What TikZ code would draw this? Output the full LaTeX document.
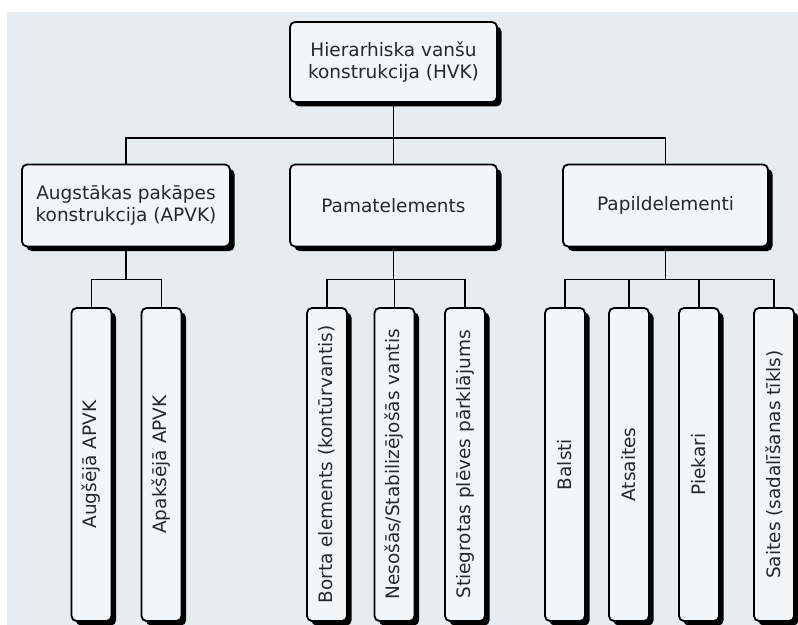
\documentclass[tikz,border=0pt]{standalone}
\usepackage{fontspec}
\setmainfont{DejaVu Sans}
\usepackage{tikz}
\usetikzlibrary{shadows,positioning}
\definecolor{pagebg}{RGB}{229,237,241}
\definecolor{boxfill}{RGB}{242,246,249}
\definecolor{inkgrey}{RGB}{40,40,40}
\tikzset{
  box/.style={draw=black,fill=boxfill,rounded corners=5bp,line width=1.8bp,
              align=center,inner sep=2bp,text=inkgrey,
              font=\fontsize{18.5bp}{22bp}\selectfont,
              drop shadow={shadow xshift=4.5bp,shadow yshift=-4.5bp,fill=black,opacity=1}},
  headbox/.style={box,minimum width=207bp,minimum height=82bp},
  leafbox/.style={box,minimum width=40bp,minimum height=313bp},
  link/.style={draw=black,line width=1.8bp},
}

\begin{document}
\begin{tikzpicture}[x=1bp,y=1bp]
  \useasboundingbox (0,0) rectangle (798,-625);
  \fill[pagebg] (7,-12) rectangle (798,-625);

  \node[headbox,minimum height=80bp] (hvk) at (393.5,-62)
        {Hierarhiska vanšu\\konstrukcija (HVK)};
  \node[headbox,minimum width=208bp] (apvk) at (126,-205.5)
        {Augstākas pakāpes\\konstrukcija (APVK)};
  \node[headbox] (pamat) at (393.5,-205.5) {Pamatelements};
  \node[headbox,minimum width=205bp] (papild) at (665.5,-205.5) {Papildelementi};

  \node[leafbox] (augs)  at (91.5,-464.5)  {\rotatebox{90}{Augšējā APVK}};
  \node[leafbox] (apak)  at (161.5,-464.5) {\rotatebox{90}{Apakšējā APVK}};
  \node[leafbox] (borta) at (327,-464.5)   {\rotatebox{90}{Borta elements (kontūrvantis)}};
  \node[leafbox] (neso)  at (394.5,-464.5) {\rotatebox{90}{Nesošās/Stabilizējošās vantis}};
  \node[leafbox] (stieg) at (465,-464.5)   {\rotatebox{90}{Stiegrotas plēves pārklājums}};
  \node[leafbox] (balst) at (565,-464.5)   {\rotatebox{90}{Balsti}};
  \node[leafbox] (atsa)  at (629,-464.5)   {\rotatebox{90}{Atsaites}};
  \node[leafbox] (piek)  at (699,-464.5)   {\rotatebox{90}{Piekari}};
  \node[leafbox] (sait)  at (774,-464.5)   {\rotatebox{90}{Saites (sadalīšanas tīkls)}};

  % connectors
  \draw[link] (hvk) -- (pamat);
  \draw[link] (hvk.south) -- ++(0,-35) -| (apvk.north);
  \draw[link] (hvk.south) -- ++(0,-35) -| (papild.north);
  \foreach \n in {augs,apak}
    \draw[link] (apvk.south) -- ++(0,-32) -| (\n.north);
  \foreach \n in {borta,neso,stieg}
    \draw[link] (pamat.south) -- ++(0,-32) -| (\n.north);
  \foreach \n in {balst,atsa,piek,sait}
    \draw[link] (papild.south) -- ++(0,-32) -| (\n.north);

\end{tikzpicture}
\end{document}
